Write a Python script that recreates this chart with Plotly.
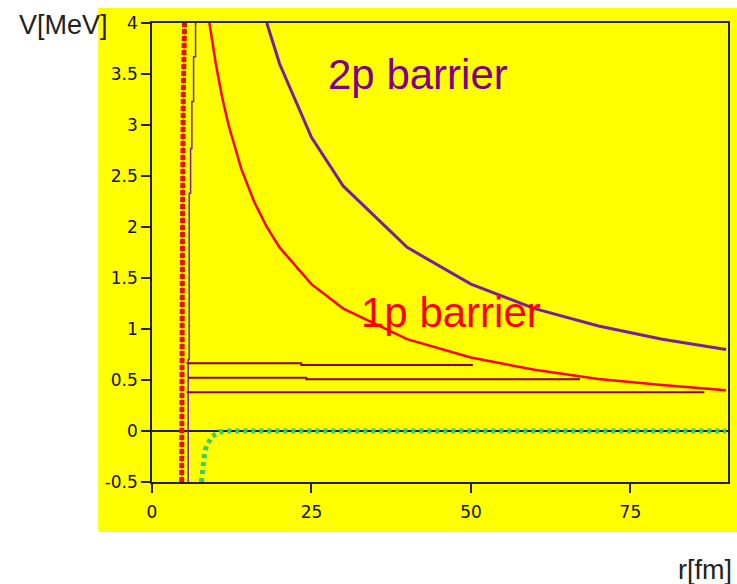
import plotly.graph_objects as go

# ---- data ----
r_1p = [9, 10, 11, 12, 14, 16, 18, 20, 25, 30, 40, 50, 60, 70, 80, 90]
v_1p = [4.0, 3.6, 3.27, 3.0, 2.57, 2.25, 2.0, 1.8, 1.44, 1.2, 0.9, 0.72, 0.6, 0.51, 0.45, 0.4]

r_2p = [18, 19, 20, 25, 30, 40, 50, 60, 70, 80, 90]
v_2p = [4.0, 3.79, 3.6, 2.88, 2.4, 1.8, 1.44, 1.2, 1.03, 0.9, 0.8]

r_wall = [5.67, 5.67, 5.83, 6.05, 6.25, 6.52, 6.83]
v_wall = [-0.5, 0.70, 2.33, 2.77, 3.23, 3.67, 4.0]

r_core = [4.65, 4.65, 4.8, 4.9, 5.1]
v_core = [-0.5, 0.7, 2.3, 3.3, 4.0]

r_tail = [7.75, 7.9, 8.15, 8.4, 8.8, 9.3, 10.0, 10.6, 12.0, 90.0]
v_tail = [-0.5, -0.38, -0.265, -0.176, -0.118, -0.059, -0.03, -0.01, 0.0, 0.0]

level1_r = [5.42, 23.4, 50.3]
level1_v = [0.664, 0.647, 0.647]
level2_r = [5.67, 24.2, 67.1]
level2_v = [0.523, 0.507, 0.507]
level3_r = [5.42, 86.6]
level3_v = [0.379, 0.379]

x_ticks = [0, 25, 50, 75]
y_ticks = [-0.5, 0, 0.5, 1, 1.5, 2, 2.5, 3, 3.5, 4]
y_tick_text = ["-0.5", "0", "0.5", "1", "1.5", "2", "2.5", "3", "3.5", "4"]

fig = go.Figure()

level_col = "#8b0000"
for lr, lv in [(level1_r, level1_v), (level2_r, level2_v), (level3_r, level3_v)]:
    fig.add_trace(go.Scatter(x=lr, y=lv, mode="lines", line=dict(color=level_col, width=2, shape="hv"),
                             showlegend=False, hoverinfo="skip"))

fig.add_trace(go.Scatter(x=r_wall, y=v_wall, mode="lines",
                         line=dict(color="#7a1f9a", width=1.5, shape="hv"), showlegend=False))

fig.add_trace(go.Scatter(x=r_core, y=v_core, mode="lines",
                         line=dict(color="#ff9900", width=2), showlegend=False))
fig.add_trace(go.Scatter(x=r_core, y=v_core, mode="lines",
                         line=dict(color="#e81000", width=5, dash="5px,2px"), showlegend=False))

fig.add_trace(go.Scatter(x=r_tail, y=v_tail, mode="lines",
                         line=dict(color="#33cc70", width=5, dash="4px,4px"), showlegend=False))

fig.add_trace(go.Scatter(x=r_1p, y=v_1p, mode="lines",
                         line=dict(color="#ff0000", width=2.5), showlegend=False))
fig.add_trace(go.Scatter(x=r_2p, y=v_2p, mode="lines",
                         line=dict(color="#7a1f9a", width=3), showlegend=False))

fig.add_annotation(x=41.7, y=3.5, xref="x", yref="y", text="2p barrier", showarrow=False,
                   font=dict(family="Liberation Sans", size=42, color="#800080"))
fig.add_annotation(x=46.9, y=1.16, xref="x", yref="y", text="1p barrier", showarrow=False,
                   font=dict(family="Liberation Sans", size=42, color="#ff0000"))

fig.add_annotation(x=-0.154, y=0.996, xref="paper", yref="paper", text="V[MeV]", showarrow=False,
                   xanchor="center", yanchor="middle",
                   font=dict(family="Liberation Sans", size=27, color="#222222"))
fig.add_annotation(x=0.960, y=-0.192, xref="paper", yref="paper", text="r[fm]", showarrow=False,
                   xanchor="center", yanchor="middle",
                   font=dict(family="Liberation Sans", size=27, color="#222222"))

fig.add_shape(type="rect", xref="paper", yref="paper", x0=-0.0934, x1=1.02, y0=-0.109, y1=1.0327,
              fillcolor="#ffff00", line=dict(width=0), layer="below")

axis_font = dict(family="DejaVu Sans", size=17, color="#111111")
fig.update_xaxes(range=[0, 90.3], tickvals=x_ticks, ticks="outside", ticklen=9, tickwidth=1.5,
                 tickcolor="#222", showline=True, linecolor="#222", linewidth=1.5, mirror=True,
                 showgrid=False, zeroline=False, tickfont=axis_font, ticklabelstandoff=5)
fig.update_yaxes(range=[-0.5, 4], tickvals=y_ticks, ticktext=y_tick_text, ticks="outside", ticklen=9,
                 tickwidth=1.5, tickcolor="#222", showline=True, linecolor="#222", linewidth=1.5,
                 mirror=True, showgrid=False, zeroline=True, zerolinecolor="#222", zerolinewidth=1.5,
                 tickfont=axis_font)

fig.update_layout(width=737, height=584, autosize=False,
                  margin=dict(l=152, r=7, t=23, b=102),
                  paper_bgcolor="#ffffff", plot_bgcolor="#ffff00")

fig.write_html("out.html")
